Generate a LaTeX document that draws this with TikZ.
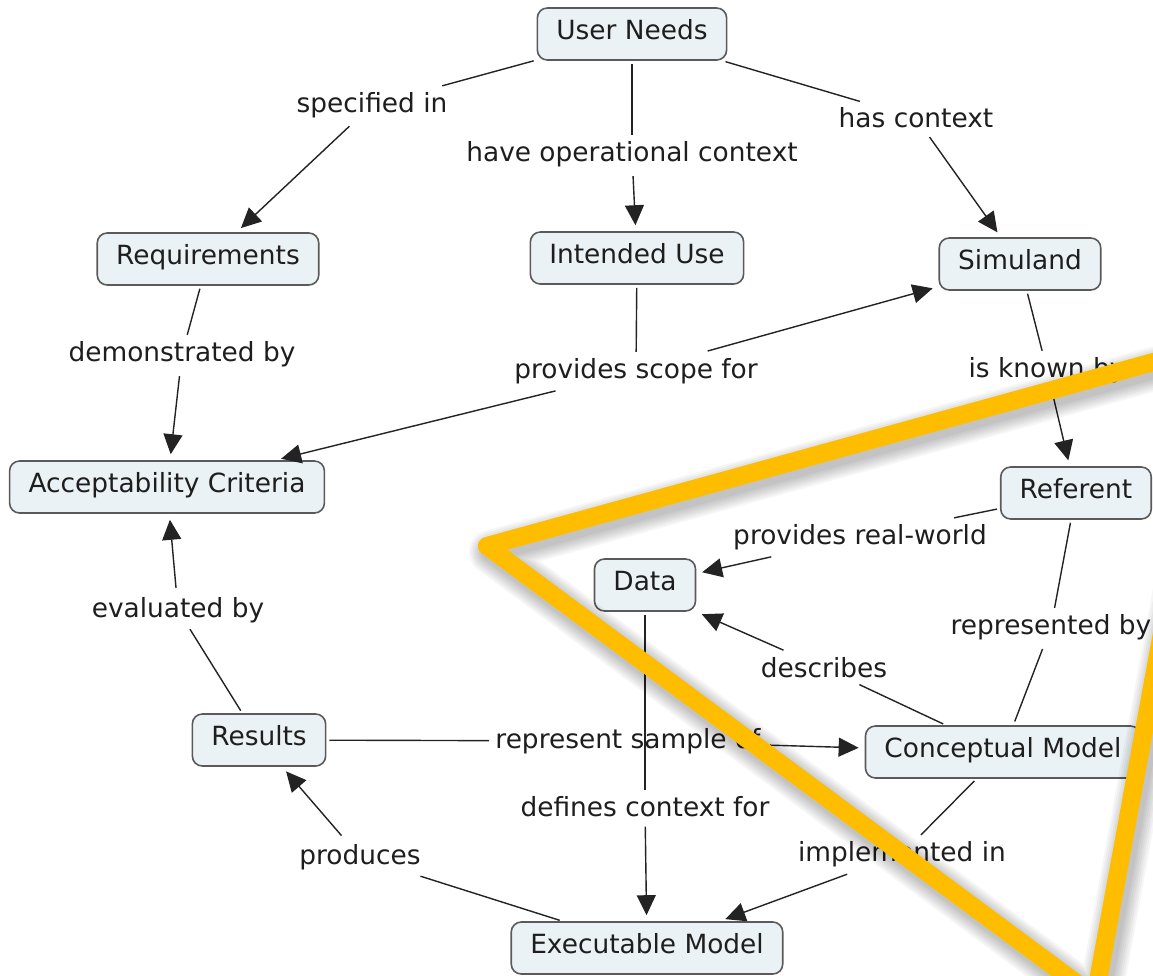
\documentclass[tikz,border=0pt]{standalone}
\usepackage{fontspec}
\setmainfont{DejaVu Sans}
\usetikzlibrary{arrows.meta}

\definecolor{conceptfill}{RGB}{235,242,245}
\definecolor{conceptline}{RGB}{90,90,90}
\definecolor{linkline}{RGB}{35,35,35}
\definecolor{textgray}{RGB}{30,30,30}
\definecolor{marker}{RGB}{255,189,0}

\tikzset{
  concept/.style={draw=conceptline, line width=0.8pt, fill=conceptfill,
    rounded corners=5pt, minimum height=26pt, inner xsep=9.5pt,
    text height=0.75em, text depth=0.22em, text=textgray,
    font=\fontsize{13.2}{15}\selectfont},
  phrase/.style={inner sep=3pt, text=textgray, font=\fontsize{13.2}{15}\selectfont},
  link/.style={draw=linkline, line width=0.7pt, shorten <=1.5pt},
  linkto/.style={link, -{Triangle[length=10pt,width=9.5pt]}, shorten >=3pt},
}

\begin{document}
\begin{tikzpicture}[x=0.5pt,y=-0.5pt]

    % Page frame, in pixels of the reference
    \fill[white] (0,0) rectangle (1153,976);
    \clip (0,0) rectangle (1153,976);

    % Concepts
    \node[concept] (needs)    at (632,34)  {User Needs};
    \node[concept] (reqs)     at (208,259) {Requirements};
    \node[concept] (use)      at (637,258) {Intended Use};
    \node[concept] (simuland) at (1020,264) {Simuland};
    \node[concept] (accept)   at (167,487) {Acceptability Criteria};
    \node[concept] (referent) at (1076,493) {Referent};
    \node[concept] (data)     at (645,585) {Data};
    \node[concept] (results)  at (259,740) {Results};
    \node[concept] (concmod)  at (1003,752) {Conceptual Model};
    \node[concept] (execmod)  at (647,948) {Executable Model};

    % Linking phrases
    \node[phrase] (specified)   at (372,105) {specified in};
    \node[phrase] (operational) at (632,154) {have operational context};
    \node[phrase] (hascontext)  at (916,118) {has context};
    \node[phrase] (demonstr)    at (182,354) {demonstrated by};
    \node[phrase] (scope)       at (636,371) {provides scope for};
    \node[phrase] (known)       at (1047,370) {is known by};
    \node[phrase] (realworld)   at (860,537) {provides real-world};
    \node[phrase] (represented) at (1051,627) {represented by};
    \node[phrase] (describes)   at (824,668) {describes};
    \node[phrase] (evaluated)   at (178,610) {evaluated by};
    \node[phrase] (sample)      at (628,741) {represent sample of};
    \node[phrase] (defines)     at (645,807) {defines context for};
    \node[phrase] (produces)    at (360,857) {produces};
    \node[phrase] (implemented) at (902,854) {implemented in};

    % Connectors from User Needs
    \draw[link] (needs) -- (specified);
    \draw[linkto] (specified) -- (reqs);
    \draw[link] (needs) -- (operational);
    \draw[linkto] (operational) -- (use);
    \draw[link] (needs) -- (hascontext);
    \draw[linkto] (hascontext) -- (simuland);

    % Middle row
    \draw[link] (reqs) -- (demonstr);
    \draw[linkto] (demonstr) -- (accept);
    \draw[link] (use) -- (scope);
    \draw[linkto] (scope) -- (simuland);
    \draw[linkto] (scope) -- (accept);
    \draw[link] (simuland) -- (known);
    \draw[linkto] (known) -- (referent);

    % Referent, Data and the models
    \draw[link] (referent) -- (realworld);
    \draw[linkto] (realworld) -- (data);
    \draw[link] (referent) -- (represented);
    \draw[link, shorten >=2pt] (represented) -- (concmod);
    \draw[link] (concmod) -- (describes);
    \draw[linkto] (describes) -- (data.south east);
    \draw[link] (results) -- (evaluated);
    \draw[linkto] (evaluated) -- (accept);
    \draw[link] (results) -- (sample);
    \draw[linkto] (sample) -- (concmod);
    \draw[link] (data) -- (defines);
    \draw[linkto] (defines) -- (execmod);
    \draw[link] (execmod) -- (produces);
    \draw[linkto] (produces) -- (results);
    \draw[link] (concmod) -- (implemented);
    \draw[linkto] (implemented) -- (execmod);

    % Highlight triangle with a soft shadow
    \begin{scope}[shift={(4,6)}]
      \foreach \w in {10pt,12pt,14pt,16pt,18pt,20pt,22pt}
        \draw[black, opacity=0.035, line width=\w, line join=round]
          (487,546) -- (1215,345) -- (1095,997) -- cycle;
    \end{scope}
    \draw[marker, line width=9pt, line join=round]
      (487,546) -- (1215,345) -- (1095,997) -- cycle;

\end{tikzpicture}
\end{document}
